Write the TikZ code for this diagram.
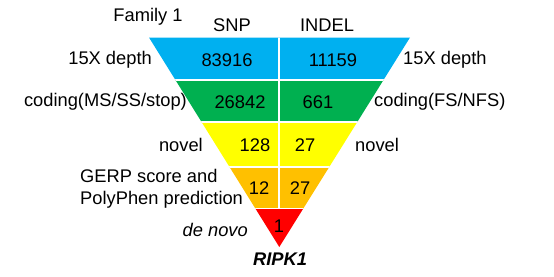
\documentclass[tikz,border=0pt]{standalone}
\usepackage{fontspec}
\setmainfont{Liberation Sans}
\definecolor{cblue}{HTML}{00B0F0}
\definecolor{cgreen}{HTML}{00B050}
\definecolor{cyellow}{HTML}{FFFF00}
\definecolor{corange}{HTML}{FFC000}
\definecolor{cred}{HTML}{FF0000}
\tikzset{
  lbl/.style={inner sep=0pt, font=\fontsize{18.3}{21}\selectfont},
  num/.style={inner sep=0pt, font=\fontsize{18.3}{21}\selectfont},
  gap/.style={white, line width=2pt},
}
\begin{document}
\begin{tikzpicture}[x=1pt,y=-1pt]
\useasboundingbox (0,0) rectangle (554,276);
\coordinate (TL) at (149,37.5);
\coordinate (TR) at (410,37.5);
\coordinate (AP) at (279.3,247);
\begin{scope}
\clip (TL) -- (TR) -- (AP) -- cycle;
\fill[cblue] (0,30) rectangle (554,79.5);
\fill[cgreen] (0,79.5) rectangle (554,122);
\fill[cyellow] (0,122) rectangle (554,167);
\fill[corange] (0,167) rectangle (554,208.8);
\fill[cred] (0,208.8) rectangle (554,260);
\draw[gap] (0,79.5) -- (554,79.5);
\draw[gap] (0,122) -- (554,122);
\draw[white, line width=1.3pt] (0,167) -- (554,167);
\draw[white, line width=1.3pt] (0,208.8) -- (554,208.8);
\draw[gap] (279.3,30) -- (279.3,208.8);
\end{scope}

\node[lbl] (fam) at (148,17) {Family 1};
\node[lbl] (snp) at (232,25) {SNP};
\node[lbl] (indel) at (327,25) {INDEL};

\node[num] (n1) at (227,60) {83916};
\node[num] (n2) at (333,60) {11159};
\node[lbl, anchor=east] (l1) at (152,60) {15X depth};
\node[lbl, anchor=west] (r1) at (403,60) {15X depth};

\node[num] (n3) at (240,102) {26842};
\node[num] (n4) at (318,102) {661};
\node[lbl, anchor=east] (l2) at (187,102) {coding(MS/SS/stop)};
\node[lbl, anchor=west] (r2) at (374,102) {coding(FS/NFS)};

\node[num] (n5) at (255,145) {128};
\node[num] (n6) at (305,145) {27};
\node[lbl, anchor=east] (l3) at (203,145) {novel};
\node[lbl, anchor=west] (r3) at (355,145) {novel};

\node[num] (n7) at (259,188) {12};
\node[num] (n8) at (300,188) {27};
\node[lbl, anchor=west, align=left, font=\fontsize{18.3}{22}\selectfont] (l4) at (80,189) {GERP score and\\PolyPhen prediction};

\node[num] (n9) at (279,226) {1};
\node[lbl, anchor=east, font=\fontsize{18.3}{21}\selectfont\itshape] (l5) at (248,230) {de novo};
\node[lbl, font=\fontsize{18.3}{21}\selectfont\bfseries\itshape] (gene) at (280,259) {RIPK1};
\end{tikzpicture}
\end{document}
